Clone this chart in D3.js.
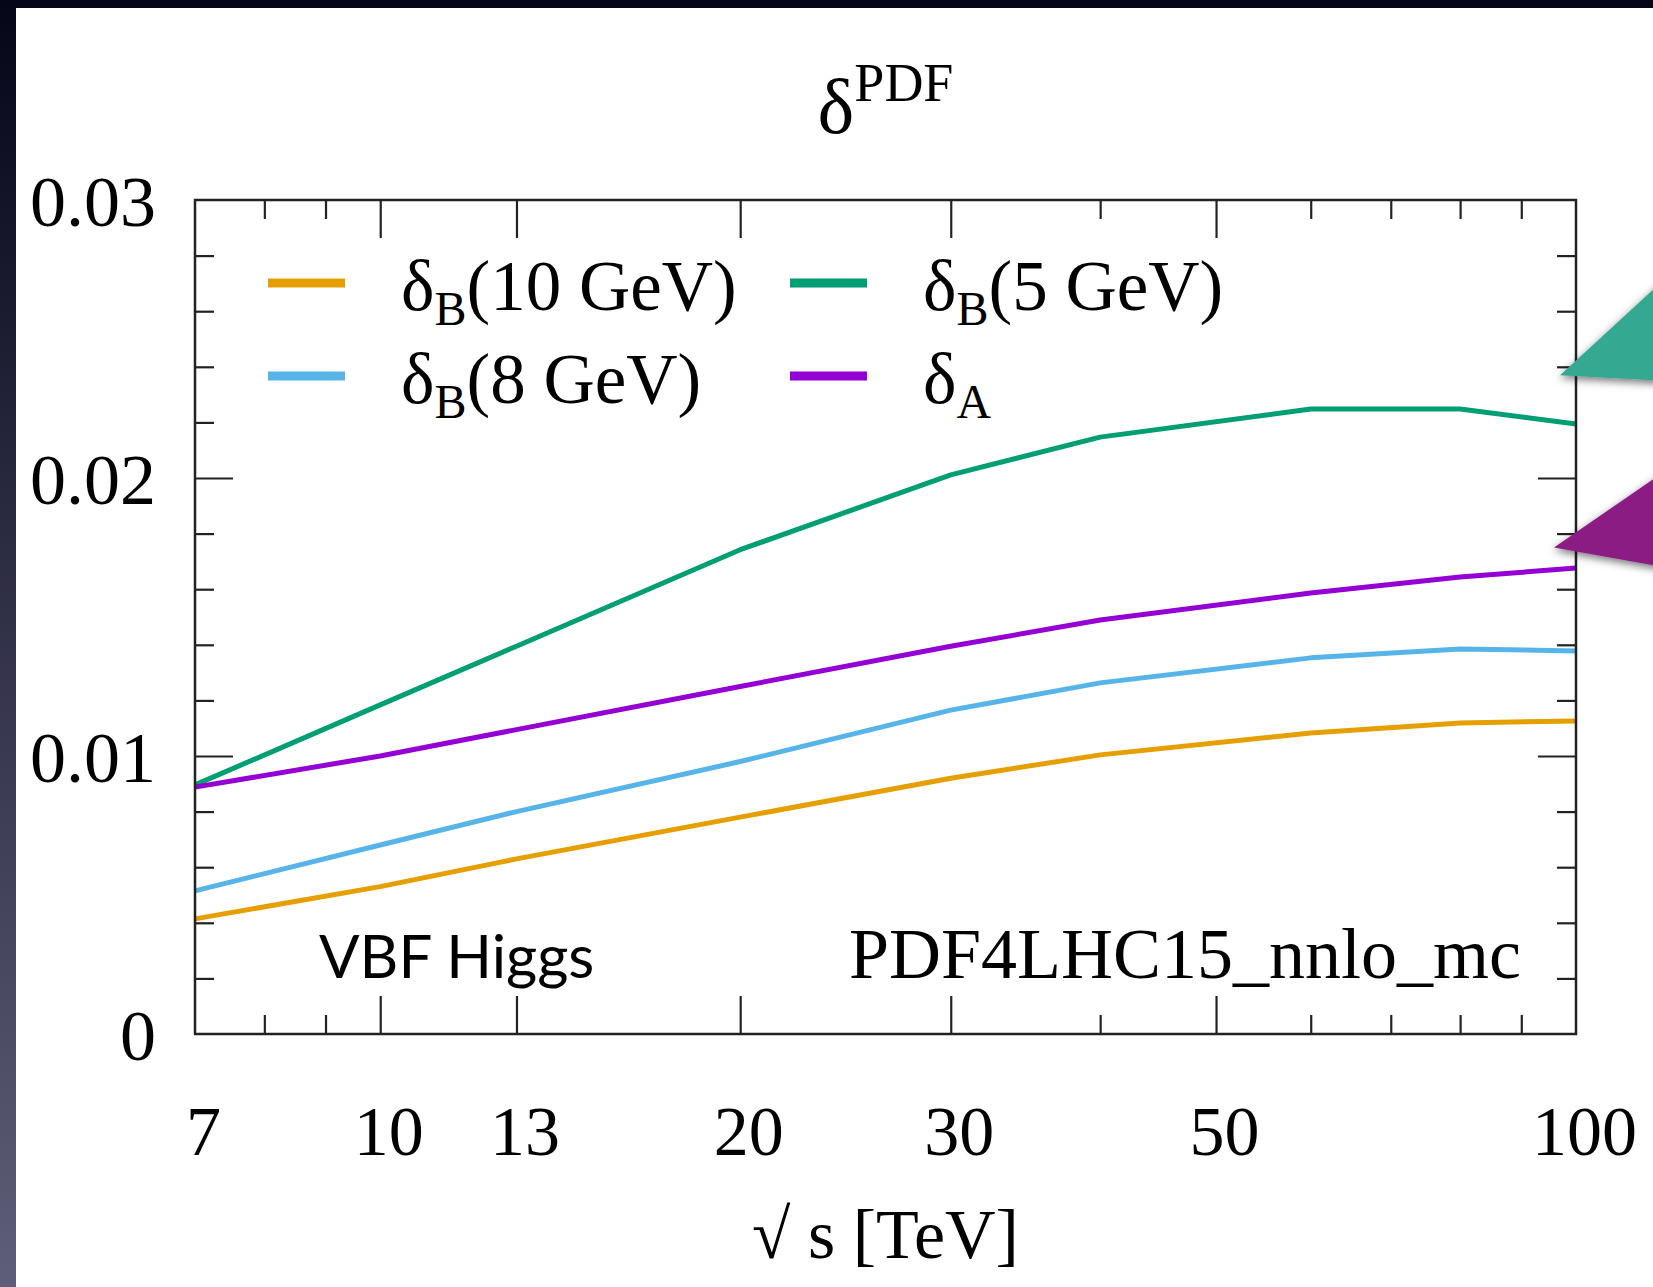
<!DOCTYPE html>
<html>
<head>
<meta charset="utf-8">
<script src="https://cdn.jsdelivr.net/npm/d3@7"></script>
<style>
  html, body { margin: 0; padding: 0; background: #fff; }
  svg { display: block; }
</style>
</head>
<body>
<div id="chart"></div>
<script>
// sqrt(s) grid in TeV and the four PDF uncertainty curves
var sqrtS   = [7, 10, 13, 20, 30, 40, 60, 80, 100];
var deltaB10 = [0.00414, 0.0053, 0.0063, 0.0078, 0.0092, 0.01004, 0.01083, 0.01119, 0.01126];
var deltaB8  = [0.00515, 0.0068, 0.0080, 0.0098, 0.01165, 0.01263, 0.01353, 0.01385, 0.01378];
var deltaB5  = [0.00896, 0.01184, 0.01395, 0.01742, 0.02011, 0.02147, 0.02248, 0.02248, 0.02194];
var deltaA   = [0.00888, 0.0100, 0.01095, 0.0125, 0.01395, 0.01489, 0.01586, 0.01644, 0.01676];

var xLabelTicks = [7, 10, 13, 20, 30, 50, 100];
var xMajorTicks = [10, 13, 20, 30, 50];
var xMinorTicks = [8, 9, 40, 60, 70, 80, 90];
var yLabelTicks = [0, 0.01, 0.02, 0.03];
var yMajorTicks = [0.01, 0.02];
var yMinorTicks = [0.002, 0.004, 0.006, 0.008, 0.012, 0.014, 0.016, 0.018, 0.022, 0.024, 0.026, 0.028];

var W = 1653, H = 1287;
var plotLeft = 195, plotRight = 1576, plotTop = 200, plotBottom = 1034;
var serif = "'Liberation Serif', 'Times New Roman', serif";

var svg = d3.select('#chart').append('svg')
  .attr('width', W).attr('height', H);

// slide background: dark strips on the top and left, white page
var defs = svg.append('defs');
var grad = defs.append('linearGradient').attr('id', 'side')
  .attr('x1', 0).attr('y1', 0).attr('x2', 0).attr('y2', 1);
grad.append('stop').attr('offset', '0%').attr('stop-color', '#060619');
grad.append('stop').attr('offset', '100%').attr('stop-color', '#5f5e7a');
var shadow = defs.append('filter').attr('id', 'shadow')
  .attr('x', '-30%').attr('y', '-30%').attr('width', '160%').attr('height', '160%');
shadow.append('feDropShadow').attr('dx', 0).attr('dy', 3)
  .attr('stdDeviation', 4).attr('flood-color', '#000').attr('flood-opacity', 0.55);

svg.append('rect').attr('width', W).attr('height', H).attr('fill', '#fff');
svg.append('rect').attr('width', 16).attr('height', H).attr('fill', 'url(#side)');
svg.append('rect').attr('width', W).attr('height', 8).attr('fill', '#060619');

var x = d3.scaleLog().domain([7, 100]).range([plotLeft, plotRight]);
var y = d3.scaleLinear().domain([0, 0.03]).range([plotBottom, plotTop]);

// inward ticks on all four sides (gnuplot style, mirrored)
function ticks(axis, pos, vals, size) {
  var g = svg.append('g').attr('transform', pos)
    .call(axis.tickValues(vals).tickSize(size).tickFormat(''));
  g.select('.domain').remove();
  g.selectAll('line').attr('stroke', '#222').attr('stroke-width', 2.2);
}
ticks(d3.axisBottom(x), 'translate(0,' + plotBottom + ')', xMajorTicks, -38);
ticks(d3.axisBottom(x), 'translate(0,' + plotBottom + ')', xMinorTicks, -19);
ticks(d3.axisTop(x), 'translate(0,' + plotTop + ')', xMajorTicks, -38);
ticks(d3.axisTop(x), 'translate(0,' + plotTop + ')', xMinorTicks, -19);
ticks(d3.axisLeft(y), 'translate(' + plotLeft + ',0)', yMajorTicks, -38);
ticks(d3.axisLeft(y), 'translate(' + plotLeft + ',0)', yMinorTicks, -19);
ticks(d3.axisRight(y), 'translate(' + plotRight + ',0)', yMajorTicks, -38);
ticks(d3.axisRight(y), 'translate(' + plotRight + ',0)', yMinorTicks, -19);

// tick labels
var xl = svg.append('g').attr('transform', 'translate(0,' + plotBottom + ')')
  .call(d3.axisBottom(x).tickValues(xLabelTicks).tickSize(0).tickFormat(d3.format('d')));
xl.select('.domain').remove();
xl.selectAll('text').attr('y', 121).attr('dy', 0).attr('dx', 8)
  .style('font-family', serif).style('font-size', '70px').attr('fill', '#000');

var yl = svg.append('g').attr('transform', 'translate(' + plotLeft + ',0)')
  .call(d3.axisLeft(y).tickValues(yLabelTicks).tickSize(0)
    .tickFormat(function (d) { return d === 0 ? '0' : d3.format('.2f')(d); }));
yl.select('.domain').remove();
yl.selectAll('text').attr('x', -39).attr('dy', 25)
  .style('font-family', serif).style('font-size', '72px').attr('fill', '#000');

// the curves
var series = [
  { name: '10 GeV', values: deltaB10, color: '#e69f00' },
  { name: '8 GeV', values: deltaB8, color: '#56b4e9' },
  { name: '5 GeV', values: deltaB5, color: '#009e73' },
  { name: 'A', values: deltaA, color: '#9400d3' }
];
var line = d3.line()
  .x(function (d) { return x(d[0]); })
  .y(function (d) { return y(d[1]); });
series.forEach(function (s) {
  svg.append('path')
    .datum(sqrtS.map(function (v, i) { return [v, s.values[i]]; }))
    .attr('d', line)
    .attr('fill', 'none')
    .attr('stroke', s.color)
    .attr('stroke-width', 5)
    .attr('stroke-linejoin', 'round');
});

// frame
svg.append('rect')
  .attr('x', plotLeft).attr('y', plotTop)
  .attr('width', plotRight - plotLeft).attr('height', plotBottom - plotTop)
  .attr('fill', 'none').attr('stroke', '#222').attr('stroke-width', 2.5);

// legend, two columns
var legendOrder = [series[0], series[2], series[1], series[3]];
legendOrder.forEach(function (s, i) {
  var col = i % 2, row = Math.floor(i / 2);
  var lx = 268 + col * 522, ly = 283 + row * 93;
  svg.append('line')
    .attr('x1', lx).attr('x2', lx + 77).attr('y1', ly).attr('y2', ly)
    .attr('stroke', s.color).attr('stroke-width', 9);
  var t = svg.append('text')
    .attr('x', lx + 133).attr('y', ly + 27)
    .style('font-family', serif).style('font-size', '71px').attr('fill', '#000');
  t.append('tspan').text('δ');
  if (s.name === 'A') {
    t.append('tspan').attr('dy', 15).style('font-size', '48px').text('A');
  } else {
    t.append('tspan').attr('dy', 15).style('font-size', '48px').text('B');
    t.append('tspan').attr('dy', -15).text('(' + s.name + ')');
  }
});

// labels inside the frame
svg.append('text').attr('x', 319).attr('y', 978)
  .style('font-family', "Lato, 'Open Sans', sans-serif").style('font-size', '60px')
  .attr('fill', '#000').text('VBF Higgs');
svg.append('text').attr('x', 1521).attr('y', 978).attr('text-anchor', 'end')
  .style('font-family', serif).style('font-size', '72px')
  .attr('fill', '#000').text('PDF4LHC15_nnlo_mc');

// title and axis label
var title = svg.append('text').attr('x', (plotLeft + plotRight) / 2).attr('y', 133)
  .attr('text-anchor', 'middle')
  .style('font-family', serif).style('font-size', '78px').attr('fill', '#000');
title.append('tspan').text('δ');
title.append('tspan').attr('dy', -32).style('font-size', '54px').text('PDF');

svg.append('text').attr('x', (plotLeft + plotRight) / 2).attr('y', 1258)
  .attr('text-anchor', 'middle')
  .style('font-family', serif).style('font-size', '70px').attr('fill', '#000')
  .text('√ s [TeV]');

// slide callout arrows pointing at the δB(5 GeV) and δA curves
var arrows = [
  { color: '#36a892', tip: [100, 0.0237], up: 0.0271, low: 0.0235, back: 16 },
  { color: '#8a1f84', tip: [100, 0.0175], up: 0.0202, low: 0.0168, back: 22 }
];
arrows.forEach(function (a) {
  var pts = [
    [x(a.tip[0]) - a.back, y(a.tip[1])],
    [W + 10, y(a.up)],
    [W + 10, y(a.low)]
  ];
  svg.append('path')
    .attr('d', 'M' + pts.join('L') + 'Z')
    .attr('fill', a.color)
    .attr('filter', 'url(#shadow)');
});
</script>
</body>
</html>
